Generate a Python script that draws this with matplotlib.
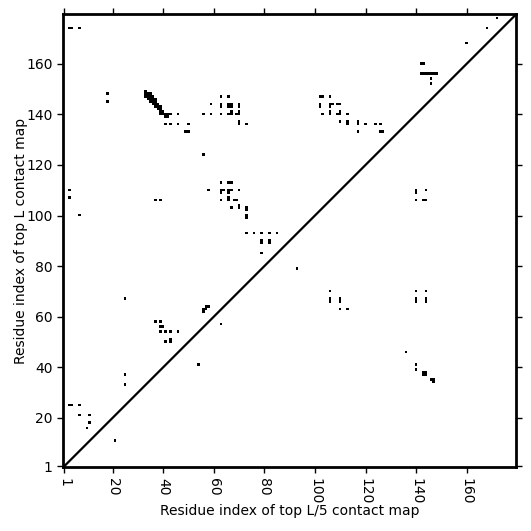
import numpy as np
import matplotlib
matplotlib.use("Agg")
import matplotlib.pyplot as plt

L = 179

# top L contacts (residue i, residue j), upper triangle
top_l = [
    (3, 174), (4, 174), (7, 174), (168, 174), (172, 178), (160, 168),
    (142, 160), (143, 160),
    (142, 156), (143, 156), (144, 156), (145, 156), (146, 156), (147, 156), (148, 156),
    (146, 154), (146, 152),
    (18, 148), (18, 145),
    # strand pairing
    (33, 147), (33, 148), (33, 149),
    (34, 146), (34, 147), (34, 148),
    (35, 145), (35, 146), (35, 147), (35, 148),
    (36, 144), (36, 145), (36, 146), (36, 147),
    (37, 143), (37, 144), (37, 145), (37, 146),
    (38, 142), (38, 143), (38, 144),
    (39, 140), (39, 141), (39, 142), (39, 143),
    (40, 140), (40, 141), (41, 139), (41, 140), (42, 139), (42, 140), (43, 140),
    (46, 140),
    (41, 136), (43, 136), (46, 136), (50, 136),
    (49, 133), (50, 133), (56, 124),
    (56, 140), (59, 144), (59, 140),
    (63, 147), (66, 147),
    (63, 143), (63, 144), (66, 143), (67, 143), (66, 144), (67, 144),
    (70, 143), (70, 144),
    (63, 140), (66, 140), (67, 140), (67, 141),
    (69, 140), (70, 140), (70, 141),
    (70, 136), (70, 137), (73, 136),
    (102, 147), (103, 147), (106, 147),
    (102, 143), (102, 144), (106, 143), (106, 144), (107, 144),
    (109, 144), (110, 144),
    (103, 140), (106, 140), (106, 141),
    (109, 140), (110, 140), (110, 141), (113, 140),
    (110, 137), (113, 136), (113, 137), (117, 136), (117, 137),
    (120, 136), (124, 136), (126, 136),
    (117, 133), (126, 133), (127, 133),
    (3, 110), (3, 107), (7, 100),
    (37, 106), (39, 106), (58, 110),
    (63, 113), (66, 113), (67, 113),
    (63, 109), (63, 110), (64, 110),
    (66, 109), (66, 110), (67, 110), (70, 110),
    (63, 106), (66, 106), (66, 107), (68, 106), (69, 106),
    (67, 103), (70, 103), (70, 104),
    (73, 99), (73, 100), (73, 102), (73, 103),
    (73, 93), (76, 93), (79, 93), (82, 93), (85, 93),
    (79, 89), (79, 90), (82, 89), (82, 90), (79, 85),
    (25, 67),
    (56, 62), (56, 63), (57, 63), (57, 64), (58, 64),
    (37, 58), (39, 58), (39, 56), (40, 56),
    (39, 54), (41, 54), (43, 54), (46, 54),
    (41, 50), (43, 50), (43, 51),
    (25, 37), (25, 33),
    (3, 25), (4, 25), (7, 25),
    (7, 21), (11, 21), (11, 18), (10, 16),
]

# top L/5 contacts, lower triangle
top_l5 = [
    (140, 109), (140, 110), (144, 110),
    (140, 106), (143, 106), (144, 106),
    (93, 79),
    (106, 70), (106, 66), (106, 67), (110, 66), (110, 67), (110, 63), (113, 63),
    (140, 70), (144, 70), (140, 66), (140, 67), (144, 66), (144, 67),
    (136, 46), (140, 41), (140, 39),
    (143, 37), (143, 38), (144, 37), (144, 38),
    (146, 35), (147, 35), (147, 34),
    (63, 57), (54, 41), (21, 11),
]

tick_labels = [1, 20, 40, 60, 80, 100, 120, 140, 160]

mat = np.zeros((L, L))
for i, j in top_l + top_l5:
    mat[j - 1, i - 1] = 1

fig = plt.figure(figsize=(5.31, 5.31), dpi=100)
ax = fig.add_axes([0.117, 0.12, 0.857, 0.853])
ax.imshow(mat, cmap='Greys', origin='lower', interpolation='nearest', vmin=0, vmax=1)
ax.plot([-0.5, L - 0.5], [-0.5, L - 0.5], color='black', lw=1.6)
ax.set_xlim(-0.5, L - 0.5)
ax.set_ylim(-0.5, L - 0.5)

pos = [t - 1 for t in tick_labels]
ax.set_xticks(pos)
ax.set_xticklabels([str(t) for t in tick_labels], rotation=270)
ax.set_yticks(pos)
ax.set_yticklabels([str(t) for t in tick_labels])
ax.tick_params(top=True, right=True, direction='out', length=4, width=1, labelsize=10)
for s in ax.spines.values():
    s.set_linewidth(2)

ax.set_xlabel("Residue index of top L/5 contact map", fontsize=10, labelpad=0)
ax.set_ylabel("Residue index of top L contact map", fontsize=10, labelpad=-1)

fig.savefig("out.png", dpi=100)
